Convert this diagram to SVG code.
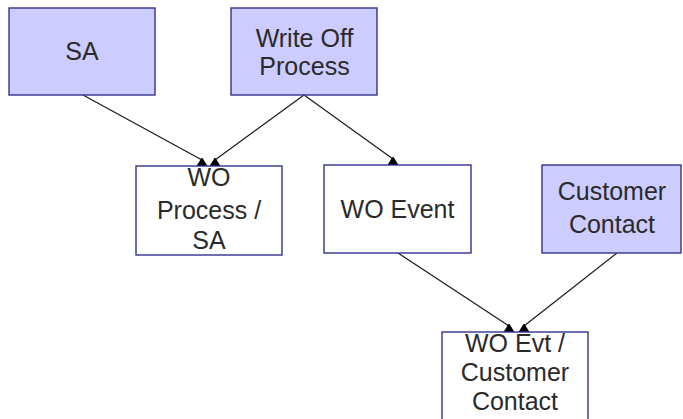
<svg xmlns="http://www.w3.org/2000/svg" width="683" height="419" viewBox="0 0 683 419">
<style>
.box{stroke:#33338f;stroke-width:1.4}
.ent{fill:#ccccff}
.rel{fill:#ffffff}
.t{font-family:"Liberation Sans",Arial,sans-serif;font-size:25px;fill:#2a2a2a;text-anchor:middle}
.ln{stroke:#1a1a1a;stroke-width:1.2;fill:none}
</style>
<defs>
<path id="ah" d="M-5.5,0 L5.5,0 L0.5,-8 L-0.5,-8 Z" fill="#000"/>
</defs>
<rect width="683" height="419" fill="#fff"/>
<g id="connectors">
<line class="ln" x1="83" y1="95" x2="202" y2="160"/>
<line class="ln" x1="304" y1="95" x2="215" y2="160"/>
<line class="ln" x1="304" y1="95" x2="393" y2="159"/>
<line class="ln" x1="398" y1="253" x2="509" y2="326"/>
<line class="ln" x1="617" y1="253" x2="524" y2="326"/>
<use href="#ah" x="202" y="166"/>
<use href="#ah" x="215" y="166"/>
<use href="#ah" x="393" y="165"/>
<use href="#ah" x="509" y="332"/>
<use href="#ah" x="524" y="332"/>
</g>
<g id="sa">
<rect class="box ent" x="9" y="8" width="146" height="87"/>
<text class="t" x="82" y="60">SA</text>
</g>
<g id="write-off-process">
<rect class="box ent" x="231" y="8" width="146" height="87"/>
<text class="t" x="304.5" y="46.5">Write Off</text>
<text class="t" x="304.5" y="75">Process</text>
</g>
<g id="wo-process-sa">
<rect class="box rel" x="136" y="166" width="146" height="89"/>
<text class="t" x="209" y="186">WO</text>
<text class="t" x="209" y="219">Process /</text>
<text class="t" x="209" y="249">SA</text>
</g>
<g id="wo-event">
<rect class="box rel" x="324" y="165" width="147" height="88"/>
<text class="t" x="397.5" y="217.5">WO Event</text>
</g>
<g id="customer-contact">
<rect class="box ent" x="542" y="165" width="139" height="88"/>
<text class="t" x="612" y="200">Customer</text>
<text class="t" x="612" y="233">Contact</text>
</g>
<g id="wo-evt-customer-contact">
<rect class="box rel" x="442" y="332" width="146" height="95"/>
<text class="t" x="515" y="352">WO Evt /</text>
<text class="t" x="515" y="381">Customer</text>
<text class="t" x="515" y="410">Contact</text>
</g>
</svg>
